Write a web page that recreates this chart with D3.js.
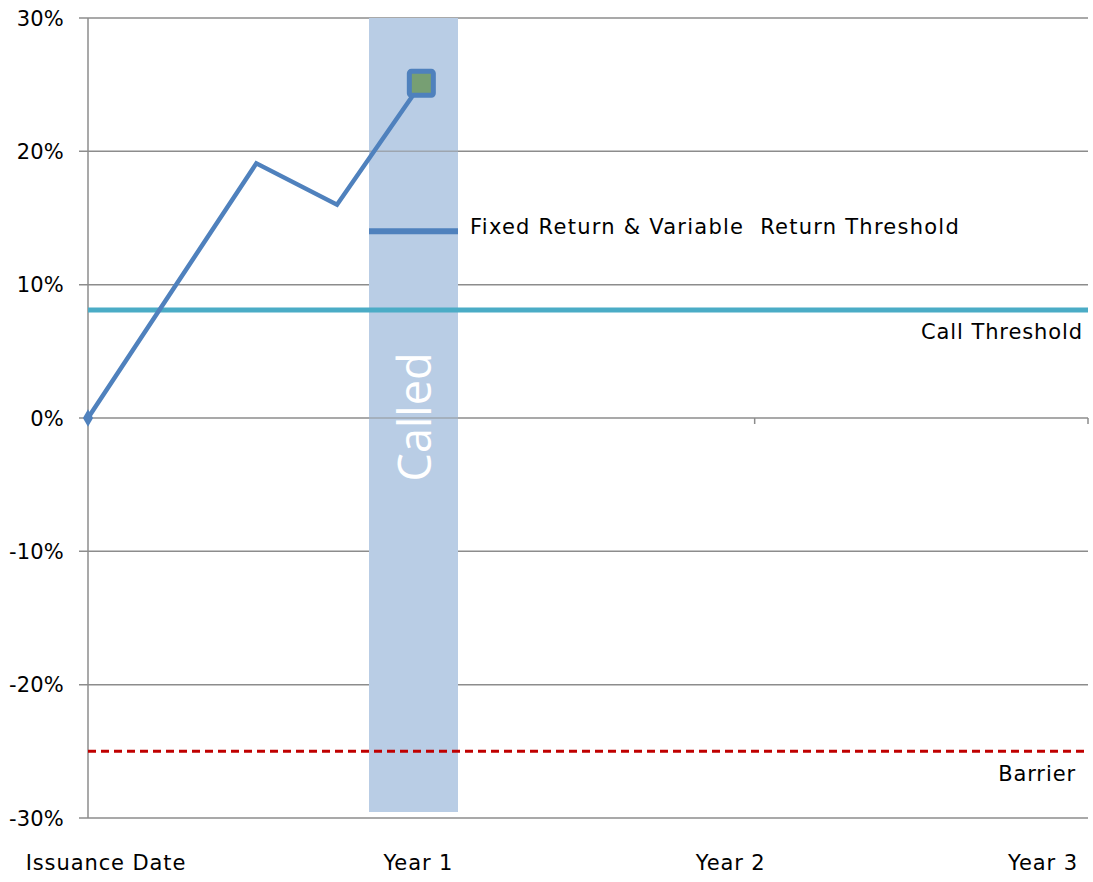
<!DOCTYPE html>
<html><head><meta charset="utf-8">
<script src="https://cdn.jsdelivr.net/npm/d3@7"></script>
<style>body{margin:0;background:#fff}text{font-family:"DejaVu Sans",sans-serif;letter-spacing:0.9px}</style>
</head><body><svg id="c" width="1093" height="882"></svg>
<script>
const xLabels = ["Issuance Date","Year 1","Year 2","Year 3"];
const yTicks = [-0.3,-0.2,-0.1,0,0.1,0.2,0.3];
const pathYears = [0, 0.505, 0.747, 1.0];
const pathValues = [0, 0.191, 0.160, 0.251];
const calledBand = {x0:0.843, x1:1.11, y0:0.30, y1:-0.2955, label:"Called"};
const fixedReturn = {x0:0.843, x1:1.11, value:0.14, label:"Fixed Return & Variable  Return Threshold"};
const callThreshold = {value:0.081, label:"Call Threshold"};
const barrier = {value:-0.25, label:"Barrier"};

const svg = d3.select("#c");
const x = d3.scaleLinear().domain([0,3]).range([88,1088]);
const y = d3.scaleLinear().domain([-0.3,0.3]).range([818,18]);
const xl = d3.scalePoint().domain(xLabels).range([106,1043]);
const grid = "#8c8c8c";
const fs = 21;
const pct = d => d3.format(".0%")(d).replace("\u2212","-");

svg.append("g").selectAll("line").data(yTicks).join("line")
  .attr("x1",79).attr("x2",1088).attr("y1",d=>y(d)).attr("y2",d=>y(d))
  .attr("stroke",grid).attr("stroke-width",1.5);
svg.append("line").attr("x1",88).attr("x2",88).attr("y1",18).attr("y2",818).attr("stroke",grid).attr("stroke-width",1.5);
svg.append("g").selectAll("text").data(yTicks).join("text")
  .attr("x",64).attr("y",d=>y(d)).attr("dy","0.36em").attr("text-anchor","end")
  .attr("font-size",fs).style("letter-spacing","0.2px").attr("fill","#000").text(pct);
svg.append("g").selectAll("line").data([1,2,3]).join("line")
  .attr("x1",d=>x(d)).attr("x2",d=>x(d)).attr("y1",y(0)).attr("y2",y(0)+6)
  .attr("stroke",grid).attr("stroke-width",1.5);
svg.append("g").selectAll("text").data(xLabels).join("text")
  .attr("x",d=>xl(d)).attr("y",862).attr("dy","0.36em").attr("text-anchor","middle")
  .attr("font-size",fs).attr("fill","#000").text(d=>d);

svg.append("rect").attr("x",x(calledBand.x0)).attr("width",x(calledBand.x1)-x(calledBand.x0))
  .attr("y",y(calledBand.y0)).attr("height",y(calledBand.y1)-y(calledBand.y0))
  .attr("fill","#b9cde5");
svg.append("text").attr("transform",`translate(${(x(calledBand.x0)+x(calledBand.x1))/2+1},${y(0)-1}) rotate(-90)`)
  .attr("text-anchor","middle").attr("dy","0.36em").attr("font-size",45)
  .style("font-family","'Open Sans',sans-serif").style("letter-spacing","0px").attr("fill","#fff").text(calledBand.label);
svg.append("line").attr("x1",x(calledBand.x0)).attr("x2",x(calledBand.x1)).attr("y1",y(0)).attr("y2",y(0))
  .attr("stroke",grid).attr("stroke-width",1.5).attr("opacity",0.6);
svg.append("line").attr("x1",x(calledBand.x0)).attr("x2",x(calledBand.x1)).attr("y1",y(0.2)).attr("y2",y(0.2))
  .attr("stroke",grid).attr("stroke-width",1.5).attr("opacity",0.6);

svg.append("line").attr("x1",x(0)).attr("x2",x(3)).attr("y1",y(callThreshold.value)).attr("y2",y(callThreshold.value))
  .attr("stroke","#4bacc6").attr("stroke-width",5);
svg.append("text").attr("x",1083).attr("y",y(callThreshold.value)+21).attr("dy","0.36em").attr("text-anchor","end")
  .attr("font-size",fs).text(callThreshold.label);
svg.append("line").attr("x1",x(0)).attr("x2",x(3)).attr("y1",y(barrier.value)).attr("y2",y(barrier.value))
  .attr("stroke","#c00000").attr("stroke-width",3).attr("stroke-dasharray","8,5");
svg.append("text").attr("x",1076).attr("y",y(barrier.value)+22).attr("dy","0.36em").attr("text-anchor","end")
  .attr("font-size",fs).text(barrier.label);
svg.append("line").attr("x1",x(fixedReturn.x0)).attr("x2",x(fixedReturn.x1)).attr("y1",y(fixedReturn.value)).attr("y2",y(fixedReturn.value))
  .attr("stroke","#4f81bd").attr("stroke-width",6);
svg.append("text").attr("x",x(fixedReturn.x1)+12).attr("y",y(fixedReturn.value)-5).attr("dy","0.36em")
  .attr("font-size",fs).style("white-space","pre").style("letter-spacing","1.25px").text(fixedReturn.label);

const pts = pathYears.map((d,i)=>[d,pathValues[i]]);
svg.append("path").datum(pts).attr("d",d3.line().x(d=>x(d[0])).y(d=>y(d[1])))
  .attr("fill","none").attr("stroke","#4f81bd").attr("stroke-width",4.5).attr("stroke-linejoin","miter");
svg.append("path").attr("d",d3.symbol(d3.symbolDiamond,90)())
  .attr("transform",`translate(${x(pts[0][0])},${y(pts[0][1])})`).attr("fill","#4f81bd");
const last = pts[pts.length-1];
svg.append("rect").attr("x",x(last[0])-12).attr("y",y(last[1])-12).attr("width",24).attr("height",24)
  .attr("rx",2).attr("fill","#779f73").attr("stroke","#4f81bd").attr("stroke-width",5);
</script></body></html>
